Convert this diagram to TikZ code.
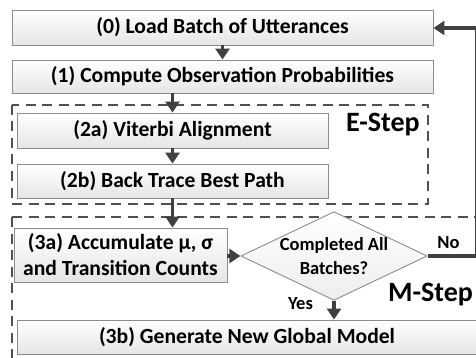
\documentclass[tikz,border=0pt]{standalone}
\usepackage{fontspec}
\setmainfont{Carlito}
\usetikzlibrary{arrows.meta,shapes.geometric}

\definecolor{arrowgray}{HTML}{404040}
\definecolor{edgegray}{HTML}{8C8C8C}
\definecolor{dashgray}{HTML}{505050}

\tikzset{
  procbox/.style={draw=edgegray, line width=0.9pt, top color=white, bottom color=black!10,
    inner sep=0pt, align=center, font=\bfseries\fontsize{21.6}{26}\selectfont},
  decision/.style={diamond, draw=edgegray, line width=0.9pt, top color=white, bottom color=black!7,
    inner sep=0pt, aspect=2.1, align=center, font=\bfseries\fontsize{18.5}{24}\selectfont},
  flow/.style={draw=arrowgray, line width=3.3pt, -{Triangle[width=14pt,length=11pt]}},
  stepframe/.style={draw=dashgray, line width=1.8pt, dash pattern=on 10pt off 6.5pt},
  steplabel/.style={font=\bfseries\fontsize{28}{30}\selectfont, inner sep=0pt},
  edgelabel/.style={font=\bfseries\fontsize{18.5}{22}\selectfont, inner sep=0pt}
}

\begin{document}
\begin{tikzpicture}[x=1pt, y=-1pt]
\useasboundingbox (0,0) rectangle (476,358);

% E-step and M-step frames
\draw[stepframe] (12,105) rectangle (428,204);
\draw[stepframe] (12,217) -- (490,217);
\draw[stepframe] (12,217) -- (12,370);

% process boxes
\node[procbox, minimum width=421pt, minimum height=35pt] (load) at (222.5,27.5) {(0) Load Batch of Utterances};
\node[procbox, minimum width=421pt, minimum height=33pt] (obs) at (222.5,76.5) {(1) Compute Observation Probabilities};
\node[procbox, minimum width=311pt, minimum height=35pt] (vit) at (172.5,130.5) {(2a) Viterbi Alignment};
\node[procbox, minimum width=311pt, minimum height=34pt] (back) at (172.5,181) {(2b) Back Trace Best Path};
\node[procbox, minimum width=213pt, minimum height=54pt] (acc) at (120.5,255) {(3a) Accumulate μ, σ\\and Transition Counts};
\node[decision, minimum width=172pt, minimum height=82pt] (done) at (334,256) {Completed All\\Batches?};
\node[procbox, minimum width=460pt, minimum height=34pt] (gen) at (247,337) {(3b) Generate New Global Model};

% frame labels
\node[steplabel, anchor=base west] (estep) at (346,132) {E-Step};
\node[steplabel, anchor=base west] (mstep) at (388,301) {M-Step};

% connectors (the loop-back runs along the right edge)
\coordinate (corner1) at (477.1,256);
\coordinate (corner2) at (477.1,28);
\draw[flow] (load) -- (obs);
\draw[flow] (obs.south -| vit) -- (vit);
\draw[flow] (vit) -- (back);
\draw[flow] (back) -- (acc.north -| back);
\draw[flow] (acc.east |- done.west) -- (done.west);
\draw[flow] (done.south) -- (done.south |- gen.north);
\draw[flow] (done.east) -- (corner1) -- (corner2) -- (load.east |- corner2);

% branch labels
\node[edgelabel] (nolab) at (448.5,243) {No};
\node[edgelabel] (yeslab) at (300.5,304) {Yes};
\end{tikzpicture}
\end{document}
